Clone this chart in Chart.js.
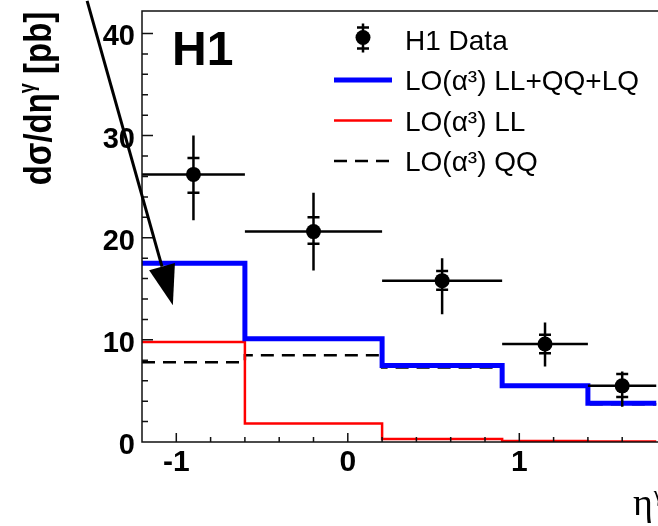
<!DOCTYPE html>
<html>
<head>
<meta charset="utf-8">
<script src="https://cdn.jsdelivr.net/npm/chart.js@4/dist/chart.umd.min.js"></script>
<style>
  html, body { margin: 0; padding: 0; overflow: hidden; background: #fff; }
  canvas { display: block; }
</style>
</head>
<body>
<canvas id="etaChart" width="664" height="526"></canvas>
<script>
const binEdges = [-1.2, -0.6, 0.2, 0.9, 1.4, 1.8];
const binCenters = [-0.9, -0.2, 0.55, 1.15, 1.6];
const dataValues = [26.2, 20.6, 15.8, 9.6, 5.5];
const totalHigh = [30.0, 24.4, 18.0, 11.7, 6.9];
const totalLow = [21.7, 16.8, 12.5, 7.4, 3.45];
const statHigh = [27.8, 22.0, 16.75, 10.5, 6.65];
const statLow = [24.4, 19.4, 14.9, 8.7, 4.4];

// LO(alpha^3) predictions
const loSum = [17.5, 10.1, 7.5, 5.5, 3.8];
const loLL = [9.8, 1.8, 0.3, 0.1, 0.05];
const loQQ = [7.8, 8.5, 7.3, 5.4, 3.7];

const yTickLabels = [0, 10, 20, 30, 40];
const xTickLabels = [-1, 0, 1];

// arrow annotation, in data units
const arrowFrom = [-1.52, 43.2];
const arrowTo = [-1.02, 13.4];

const FONT = '"Liberation Sans", Arial, Helvetica, sans-serif';
const SERIF = '"Liberation Serif", "DejaVu Serif", "Times New Roman", serif';

function stepPoints(values) {
  const pts = values.map((v, i) => ({ x: binEdges[i], y: v }));
  pts.push({ x: binEdges[binEdges.length - 1], y: values[values.length - 1] });
  return pts;
}

const h1Decor = {
  id: 'h1Decor',
  beforeDatasetDraw(chart, args) {
    if (args.index !== 0) return;
    const { ctx, chartArea: a, scales: { x, y } } = chart;
    ctx.save();
    ctx.beginPath();
    ctx.rect(a.left, a.top, a.right - a.left, a.bottom - a.top);
    ctx.clip();
    ctx.strokeStyle = '#000';
    ctx.lineWidth = 2.5;
    binCenters.forEach((c, i) => {
      const px = x.getPixelForValue(c);
      const py = y.getPixelForValue(dataValues[i]);
      ctx.beginPath();
      ctx.moveTo(x.getPixelForValue(binEdges[i]), py);
      ctx.lineTo(x.getPixelForValue(binEdges[i + 1]), py);
      ctx.moveTo(px, y.getPixelForValue(totalHigh[i]));
      ctx.lineTo(px, y.getPixelForValue(totalLow[i]));
      [statHigh[i], statLow[i]].forEach(s => {
        const sy = y.getPixelForValue(s);
        ctx.moveTo(px - 6, sy);
        ctx.lineTo(px + 6, sy);
      });
      ctx.stroke();
    });
    ctx.restore();
  },
  afterDraw(chart) {
    const { ctx, chartArea: a, scales: { x, y } } = chart;
    ctx.save();

    // frame
    ctx.strokeStyle = '#111';
    ctx.lineWidth = 1.5;
    ctx.beginPath();
    ctx.moveTo(a.right + 2, a.top);
    ctx.lineTo(a.left, a.top);
    ctx.lineTo(a.left, a.bottom);
    ctx.lineTo(a.right + 2, a.bottom);
    ctx.stroke();

    // inward tick marks
    ctx.lineWidth = 1.5;
    ctx.beginPath();
    y.ticks.forEach(t => {
      const v = t.value;
      if (Math.abs(v / 2 - Math.round(v / 2)) > 1e-6 || v <= 0) return;
      const len = yTickLabels.includes(Math.round(v)) ? 11 : 6;
      const py = y.getPixelForValue(v);
      ctx.moveTo(a.left, py);
      ctx.lineTo(a.left + len, py);
    });
    x.ticks.forEach(t => {
      const v = t.value;
      if (Math.abs(v / 0.2 - Math.round(v / 0.2)) > 1e-6) return;
      if (v <= x.min + 1e-6 || v >= x.max - 1e-6) return;
      const len = Math.abs(v - Math.round(v)) < 1e-6 ? 9 : 5;
      const px = x.getPixelForValue(v);
      ctx.moveTo(px, a.bottom);
      ctx.lineTo(px, a.bottom - len);
    });
    ctx.stroke();

    // arrow
    const x0 = x.getPixelForValue(arrowFrom[0]), y0 = y.getPixelForValue(arrowFrom[1]);
    const x1 = x.getPixelForValue(arrowTo[0]), y1 = y.getPixelForValue(arrowTo[1]);
    const len = Math.hypot(x1 - x0, y1 - y0);
    const ux = (x1 - x0) / len, uy = (y1 - y0) / len;
    const bx = x1 - ux * 40, by = y1 - uy * 40;
    ctx.strokeStyle = '#000';
    ctx.fillStyle = '#000';
    ctx.lineWidth = 3;
    ctx.beginPath();
    ctx.moveTo(x0, y0);
    ctx.lineTo(bx, by);
    ctx.stroke();
    ctx.beginPath();
    ctx.moveTo(x1, y1);
    ctx.lineTo(bx - uy * 13.4, by + ux * 13.4);
    ctx.lineTo(bx + uy * 13.4, by - ux * 13.4);
    ctx.closePath();
    ctx.fill();

    // H1 label
    ctx.font = 'bold 48px ' + FONT;
    ctx.textBaseline = 'alphabetic';
    ctx.textAlign = 'left';
    ctx.fillText('H1', 172, 65);

    // legend
    const ds = chart.data.datasets;
    const rowY = [39.5, 80, 120.5, 161];
    ctx.font = '28px ' + FONT;
    ds.forEach((d, i) => {
      const cy = rowY[i];
      ctx.fillStyle = '#000';
      ctx.fillText(d.label, 405, cy + 10);
      if (i === 0) {
        ctx.lineWidth = 2.5;
        ctx.strokeStyle = '#000';
        ctx.beginPath();
        ctx.moveTo(363, cy - 16); ctx.lineTo(363, cy + 13);
        ctx.moveTo(357, cy - 12); ctx.lineTo(369, cy - 12);
        ctx.moveTo(357, cy + 9); ctx.lineTo(369, cy + 9);
        ctx.stroke();
        ctx.beginPath();
        ctx.arc(363, cy - 2, 7.5, 0, Math.PI * 2);
        ctx.fill();
      } else {
        ctx.lineWidth = d.borderWidth;
        ctx.strokeStyle = d.borderColor;
        ctx.setLineDash(d.borderDash || []);
        ctx.beginPath();
        ctx.moveTo(334, cy);
        ctx.lineTo(392, cy);
        ctx.stroke();
        ctx.setLineDash([]);
      }
    });

    // y-axis title
    ctx.fillStyle = '#000';
    ctx.save();
    ctx.translate(51, 98.5);
    ctx.rotate(-Math.PI / 2);
    ctx.scale(1, 1.2);
    const big = 'bold 33px ' + FONT, small = 'bold 18px ' + FONT;
    const parts = [['dσ/dη', big, 0], ['γ', small, -14], [' [pb]', big, 0]];
    let total = 0;
    parts.forEach(p => { ctx.font = p[1]; total += ctx.measureText(p[0]).width; });
    let tx = -total / 2;
    parts.forEach(p => {
      ctx.font = p[1];
      ctx.fillText(p[0], tx, p[2]);
      tx += ctx.measureText(p[0]).width;
    });
    ctx.restore();

    // x-axis title
    ctx.font = '38px ' + SERIF;
    ctx.fillText('η', 633, 515);
    const ew = ctx.measureText('η').width;
    ctx.font = '22px ' + SERIF;
    ctx.fillText('γ', 633 + ew + 1, 501);

    ctx.restore();
  }
};

new Chart(document.querySelector('#etaChart').getContext('2d'), {
  type: 'line',
  data: {
    datasets: [
      {
        label: 'H1 Data',
        data: binCenters.map((c, i) => ({ x: c, y: dataValues[i] })),
        showLine: false,
        pointRadius: 7.5,
        pointBorderWidth: 0,
        pointBackgroundColor: '#000'
      },
      {
        label: 'LO(α³) LL+QQ+LQ',
        data: stepPoints(loSum),
        stepped: 'before',
        borderColor: '#0000ff',
        borderWidth: 5,
        pointRadius: 0,
        fill: false
      },
      {
        label: 'LO(α³) LL',
        data: stepPoints(loLL),
        stepped: 'before',
        borderColor: '#ff0000',
        borderWidth: 2.5,
        pointRadius: 0,
        fill: false
      },
      {
        label: 'LO(α³) QQ',
        data: stepPoints(loQQ),
        stepped: 'before',
        borderColor: '#000',
        borderWidth: 2.5,
        borderDash: [13, 8],
        pointRadius: 0,
        fill: false
      }
    ]
  },
  options: {
    responsive: false,
    animation: false,
    devicePixelRatio: 1,
    layout: { padding: { top: 11, right: 0, left: 0, bottom: 0 } },
    plugins: { legend: { display: false }, tooltip: { enabled: false } },
    scales: {
      x: {
        type: 'linear',
        min: -1.2,
        max: 1.8,
        grid: { display: false, drawTicks: false },
        border: { display: false },
        ticks: {
          stepSize: 0.2,
          autoSkip: false,
          maxRotation: 0,
          padding: 3,
          color: '#000',
          font: { family: FONT, size: 30, weight: 'bold' },
          callback: v => {
            const r = Math.round(v);
            return Math.abs(v - r) < 1e-6 && xTickLabels.includes(r) ? String(r) : '';
          }
        },
        afterFit: s => { s.height = 84; s.paddingLeft = 0; s.paddingRight = 0; }
      },
      y: {
        min: 0,
        max: 42.2,
        grid: { display: false, drawTicks: false },
        border: { display: false },
        ticks: {
          stepSize: 2,
          autoSkip: false,
          padding: 7,
          labelOffset: 4,
          color: '#000',
          font: { family: FONT, size: 29, weight: 'bold' },
          callback: v => yTickLabels.includes(v) ? String(v) : ''
        },
        afterFit: s => { s.width = 142; s.paddingTop = 0; s.paddingBottom = 0; }
      }
    }
  },
  plugins: [h1Decor]
});
</script>
</body>
</html>
